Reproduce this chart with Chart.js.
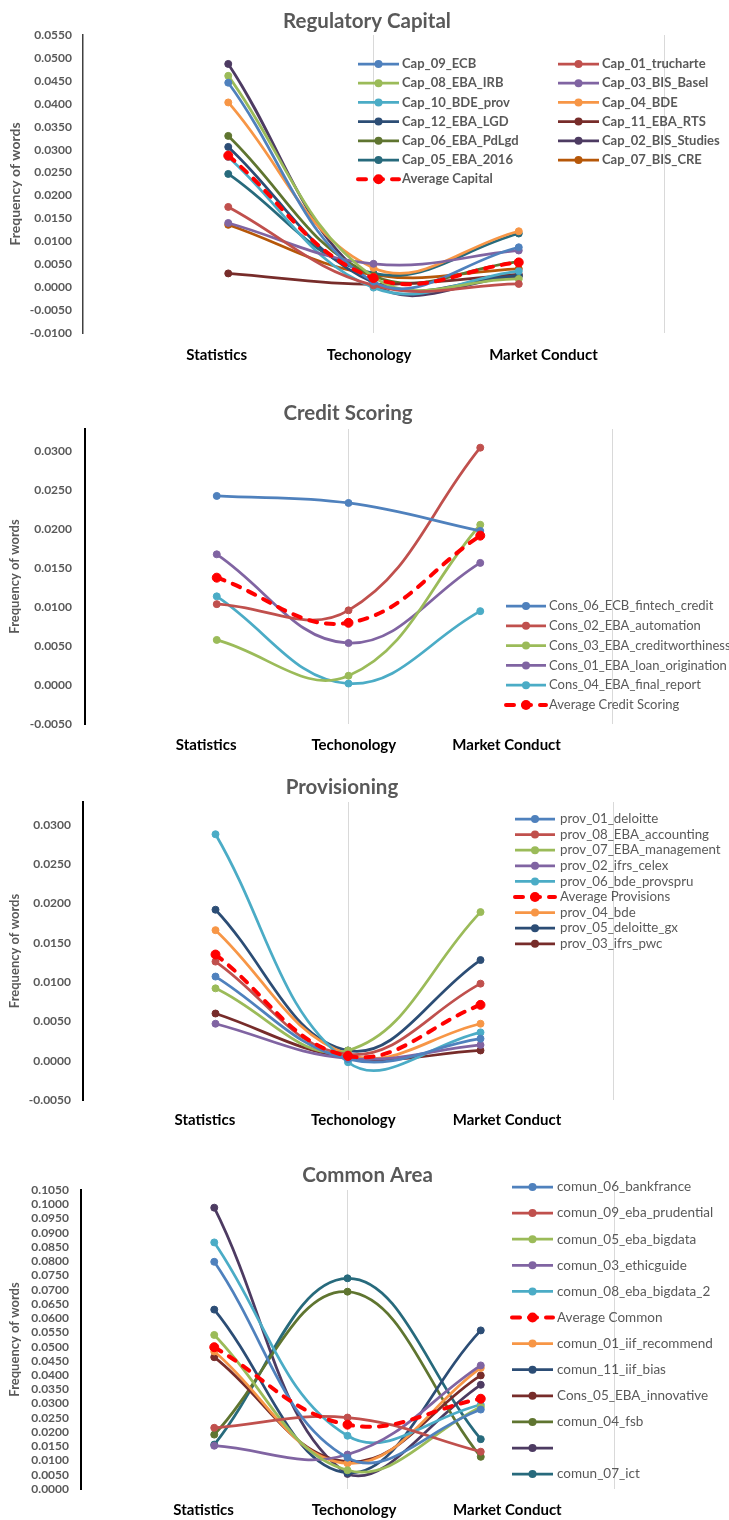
<!DOCTYPE html>
<html><head><meta charset="utf-8">
<script src="https://cdn.jsdelivr.net/npm/chart.js@4/dist/chart.umd.min.js"></script>
<style>
html,body{margin:0;padding:0;background:#fff;}
body{width:729px;height:1520px;position:relative;overflow:hidden;}
canvas{position:absolute;left:0;}
</style></head><body>
<canvas id="c1" width="729" height="380" style="top:0px"></canvas>
<canvas id="c2" width="729" height="370" style="top:390px"></canvas>
<canvas id="c3" width="729" height="380" style="top:770px"></canvas>
<canvas id="c4" width="729" height="370" style="top:1150px"></canvas>
<script>
// ---------- DATA ----------
const categories = ['Statistics', 'Techonology', 'Market Conduct'];

const capNames = ['Cap_09_ECB','Cap_01_trucharte','Cap_08_EBA_IRB','Cap_03_BIS_Basel','Cap_10_BDE_prov','Cap_04_BDE',
  'Cap_12_EBA_LGD','Cap_11_EBA_RTS','Cap_06_EBA_PdLgd','Cap_02_BIS_Studies','Cap_05_EBA_2016','Cap_07_BIS_CRE','Average Capital'];
const capValues = [
  [0.0446, 0.0012, 0.0087],
  [0.0175, 0.0004, 0.0007],
  [0.0461, 0.0022, 0.0018],
  [0.0140, 0.0051, 0.0080],
  [0.0284, -0.0001, 0.0035],
  [0.0403, 0.0042, 0.0122],
  [0.0306, 0.0010, 0.0025],
  [0.0030, 0.0006, 0.0028],
  [0.0330, 0.0025, 0.0055],
  [0.0487, 0.0008, 0.0024],
  [0.0247, 0.0030, 0.0117],
  [0.0136, 0.0027, 0.0040],
  [0.0287, 0.0020, 0.0054]
];

const consNames = ['Cons_06_ECB_fintech_credit','Cons_02_EBA_automation','Cons_03_EBA_creditworthiness',
  'Cons_01_EBA_loan_origination','Cons_04_EBA_final_report','Average Credit Scoring'];
const consValues = [
  [0.0243, 0.0234, 0.0198],
  [0.0104, 0.0096, 0.0305],
  [0.0058, 0.0012, 0.0206],
  [0.0168, 0.0054, 0.0157],
  [0.0114, 0.0002, 0.0095],
  [0.0138, 0.0080, 0.0192]
];

const provNames = ['prov_01_deloitte','prov_08_EBA_accounting','prov_07_EBA_management','prov_02_ifrs_celex',
  'prov_06_bde_provspru','Average Provisions','prov_04_bde','prov_05_deloitte_gx','prov_03_ifrs_pwc'];
const provValues = [
  [0.0107, 0.0002, 0.0028],
  [0.0126, 0.0008, 0.0098],
  [0.0092, 0.0013, 0.0189],
  [0.0047, 0.0003, 0.0020],
  [0.0288, -0.0002, 0.0036],
  [0.0135, 0.0006, 0.0071],
  [0.0166, 0.0008, 0.0047],
  [0.0192, 0.0013, 0.0128],
  [0.0060, 0.0004, 0.0013]
];

const comNames = ['comun_06_bankfrance','comun_09_eba_prudential','comun_05_eba_bigdata','comun_03_ethicguide',
  'comun_08_eba_bigdata_2','Average Common','comun_01_iif_recommend','comun_11_iif_bias','Cons_05_EBA_innovative',
  'comun_04_fsb','','comun_07_ict'];
const comValues = [
  [0.0798, 0.0110, 0.0279],
  [0.0215, 0.0251, 0.0131],
  [0.0541, 0.0066, 0.0288],
  [0.0152, 0.0121, 0.0434],
  [0.0866, 0.0187, 0.0296],
  [0.0498, 0.0226, 0.0317],
  [0.0483, 0.0090, 0.0425],
  [0.0630, 0.0057, 0.0557],
  [0.0463, 0.0096, 0.0399],
  [0.0191, 0.0693, 0.0113],
  [0.0988, 0.0053, 0.0366],
  [0.0156, 0.0740, 0.0175]
];

// ---------- STYLES ----------
const AVG = '#FF0000';
const capColors = ['#4F81BD','#C0504D','#9BBB59','#8064A2','#4BACC6','#F79646','#2C4D75','#772C2A','#5F7530','#4D3B62','#276A7C','#B65708',AVG];
const consColors = ['#4F81BD','#C0504D','#9BBB59','#8064A2','#4BACC6',AVG];
const provColors = ['#4F81BD','#C0504D','#9BBB59','#8064A2','#4BACC6',AVG,'#F79646','#2C4D75','#772C2A'];
const comColors = ['#4F81BD','#C0504D','#9BBB59','#8064A2','#4BACC6',AVG,'#F79646','#2C4D75','#772C2A','#5F7530','#4D3B62','#276A7C'];

const FONT = 'Lato';
const GREY = '#595959';

const decor = {
  id: 'decor',
  afterDraw(chart, args, o) {
    const ctx = chart.ctx;
    ctx.save();
    ctx.fillStyle = GREY;
    ctx.font = `bold ${o.titleSize}px ${FONT}`;
    ctx.textAlign = 'center';
    ctx.textBaseline = 'middle';
    ctx.fillText(o.title, o.titleX, o.titleY);
    const L = o.legend;
    chart.data.datasets.forEach((ds, i) => {
      const col = i % L.cols, row = Math.floor(i / L.cols);
      const x = L.x + col * L.colW, y = L.y + row * L.rowH;
      ctx.strokeStyle = ds.borderColor;
      ctx.lineWidth = ds.borderWidth;
      if (ds.borderDash) { ctx.setLineDash(ds.borderDash); ctx.lineCap = 'round'; }
      else { ctx.setLineDash([]); ctx.lineCap = 'butt'; }
      ctx.beginPath(); ctx.moveTo(x, y); ctx.lineTo(x + L.len, y); ctx.stroke();
      ctx.setLineDash([]);
      ctx.fillStyle = ds.pointBackgroundColor;
      ctx.beginPath(); ctx.arc(x + L.len / 2, y, ds.pointRadius + 0.5, 0, Math.PI * 2); ctx.fill();
      ctx.fillStyle = GREY;
      ctx.font = `${L.weight || 'normal'} ${L.size}px ${FONT}`;
      ctx.textAlign = 'left';
      ctx.textBaseline = 'middle';
      ctx.fillText(ds.label, x + L.len + L.gap, y);
    });
    ctx.restore();
  }
};

function makeDatasets(names, values, colors) {
  return names.map((n, i) => {
    const isAvg = n.startsWith('Average');
    const c = colors[i];
    return {
      label: n,
      data: values[i].map((v, j) => ({ x: j + 1, y: v })),
      borderColor: c,
      backgroundColor: c,
      pointBackgroundColor: c,
      pointBorderColor: c,
      pointBorderWidth: 1,
      pointRadius: isAvg ? 4.5 : 3.5,
      borderWidth: isAvg ? 4 : 2.75,
      borderDash: isAvg ? [8, 9] : undefined,
      borderCapStyle: isAvg ? 'round' : 'butt',
      tension: 0.4,
      order: isAvg ? 0 : 1
    };
  });
}

function build(id, cfg) {
  const labelPos = cfg.labelPos;
  new Chart(document.getElementById(id), {
    type: 'line',
    data: { datasets: makeDatasets(cfg.names, cfg.values, cfg.colors) },
    plugins: [decor],
    options: {
      responsive: false,
      animation: false,
      events: [],
      layout: { padding: { top: cfg.T, right: cfg.R, left: 0, bottom: 0 } },
      plugins: {
        legend: { display: false },
        title: { display: false },
        tooltip: { enabled: false },
        decor: { title: cfg.title, titleX: cfg.titleX, titleY: cfg.titleY, titleSize: 20.5, legend: cfg.legend }
      },
      scales: {
        x: {
          type: 'linear', min: 0, max: 4,
          afterBuildTicks: s => {
            s.ticks = labelPos.map(v => ({ value: v })).concat([{ value: 2 }, { value: 4 }]).sort((a, b) => a.value - b.value);
          },
          afterFit: s => { s.height = cfg.xH; },
          ticks: {
            autoSkip: false, maxRotation: 0, minRotation: 0, padding: cfg.xPad,
            color: '#000', font: { family: FONT, size: 15, weight: 'bold' },
            callback: v => { const k = labelPos.indexOf(v); return k >= 0 ? categories[k] : ''; }
          },
          grid: {
            drawTicks: false, lineWidth: 1,
            color: c => (c.tick && (c.tick.value === 2 || c.tick.value === 4)) ? '#D9D9D9' : 'rgba(0,0,0,0)'
          },
          border: { display: false }
        },
        y: {
          min: cfg.ymin, max: cfg.ymax,
          afterFit: s => { s.width = cfg.L; },
          ticks: {
            stepSize: 0.005, includeBounds: false, maxTicksLimit: 100, autoSkip: false, padding: cfg.yPad,
            color: GREY, font: { family: FONT, size: 12, weight: 'bold', lineHeight: 1 },
            callback: v => (Math.abs(v) < 1e-10 ? 0 : v).toFixed(4)
          },
          grid: { display: false, drawTicks: false },
          border: { display: true, color: cfg.axisColor, width: cfg.axisWidth },
          title: {
            display: true, text: 'Frequency of words', color: GREY,
            font: { family: FONT, size: cfg.yTitleSize, weight: 'bold' }, padding: { top: 7, bottom: 0 }
          }
        }
      }
    }
  });
}

function init() {
  build('c1', {
    names: capNames, values: capValues, colors: capColors,
    T: 35, R: 65, L: 83, xH: 47, xPad: 13, yPad: 11, ymin: -0.01, ymax: 0.05501,
    axisColor: '#404040', axisWidth: 1.5, yTitleSize: 14,
    labelPos: [0.92, 1.97, 3.17],
    title: 'Regulatory Capital', titleX: 367, titleY: 21,
    legend: { x: 358, y: 64, cols: 2, colW: 200, rowH: 19.2, len: 41, gap: 3, size: 13, weight: 'bold' }
  });
  build('c2', {
    names: consNames, values: consValues, colors: consColors,
    T: 39, R: 117, L: 85, xH: 36, xPad: 12, yPad: 13, ymin: -0.005, ymax: 0.0329,
    axisColor: '#000', axisWidth: 2, yTitleSize: 13,
    labelPos: [0.92, 2.04, 3.2],
    title: 'Credit Scoring', titleX: 348, titleY: 23,
    legend: { x: 506, y: 216, cols: 1, colW: 0, rowH: 19.8, len: 40, gap: 3, size: 13 }
  });
  build('c3', {
    names: provNames, values: provValues, colors: provColors,
    T: 32, R: 116, L: 83, xH: 50, xPad: 11, yPad: 12, ymin: -0.005, ymax: 0.0329,
    axisColor: '#000', axisWidth: 2, yTitleSize: 13,
    labelPos: [0.92, 2.04, 3.2],
    title: 'Provisioning', titleX: 342, titleY: 17,
    legend: { x: 515, y: 49, cols: 1, colW: 0, rowH: 15.6, len: 40, gap: 5, size: 13.3 }
  });
  build('c4', {
    names: comNames, values: comValues, colors: comColors,
    T: 40, R: 115, L: 81, xH: 31, xPad: 12, yPad: 12, ymin: 0, ymax: 0.10501,
    axisColor: '#000', axisWidth: 2, yTitleSize: 13,
    labelPos: [0.92, 2.05, 3.2],
    title: 'Common Area', titleX: 367.5, titleY: 25,
    legend: { x: 512, y: 37, cols: 1, colW: 0, rowH: 26.1, len: 41, gap: 4, size: 13.5 }
  });
}

if (document.fonts && document.fonts.load) {
  Promise.all([
    document.fonts.load('bold 12px Lato'),
    document.fonts.load('12px Lato')
  ]).then(init, init);
} else { init(); }
</script>
</body></html>
